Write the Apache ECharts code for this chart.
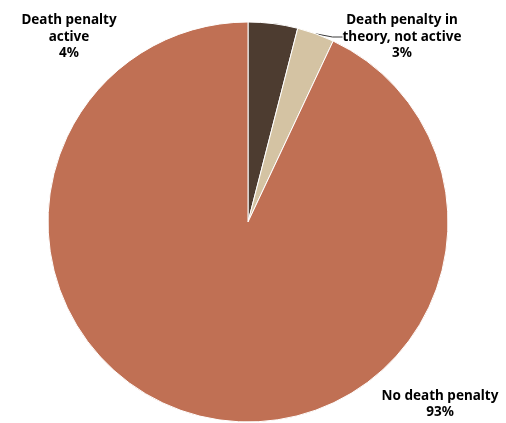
<!DOCTYPE html>
<html>
<head>
<meta charset="utf-8">
<script src="https://cdn.jsdelivr.net/npm/echarts@6/dist/echarts.min.js"></script>
<style>
  html, body { margin: 0; padding: 0; background: #fff; }
  #chart { width: 506px; height: 423px; }
</style>
</head>
<body>
<div id="chart"></div>
<script>
// Share of countries by death penalty status
const categories = ['Death penalty\nactive', 'Death penalty in\ntheory, not active', 'No death penalty'];
const shares = [4, 3, 93];
const colors = ['#4D3C30', '#D4C3A3', '#C07054'];

// Label anchor points (pixels) for each slice
const labelSpots = [
  { x: 69, y: 37 },
  { x: 402, y: 37 },
  { x: 440, y: 404 }
];

const chart = echarts.init(document.getElementById('chart'));
chart.setOption({
  animation: false,
  series: [{
    type: 'pie',
    center: [248, 222],
    radius: 200,
    startAngle: 90,
    clockwise: true,
    itemStyle: { borderColor: '#ffffff', borderWidth: 1 },
    label: {
      show: true,
      position: 'outside',
      formatter: p => p.name + '\n' + p.value + '%',
      fontFamily: '"Noto Sans", sans-serif',
      fontWeight: 'bold',
      fontSize: 13.5,
      lineHeight: 16.5,
      color: '#000',
      align: 'center',
      overflow: 'none'
    },
    labelLine: { show: false },
    labelLayout: p => ({
      x: labelSpots[p.dataIndex].x,
      y: labelSpots[p.dataIndex].y,
      align: 'center',
      verticalAlign: 'middle'
    }),
    data: categories.map((c, i) => ({
      name: c,
      value: shares[i],
      itemStyle: { color: colors[i] },
      labelLine: i === 1 ? { show: true, length: 8, length2: 10, lineStyle: { color: '#3a3a3a', width: 1 } } : { show: false }
    }))
  }]
});
</script>
</body>
</html>
